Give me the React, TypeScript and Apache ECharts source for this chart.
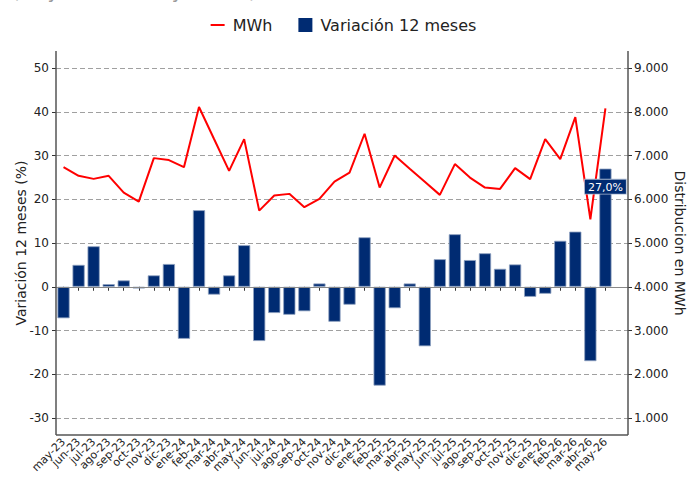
import React, { useEffect, useRef } from "react";
import * as echarts from "echarts";

const months = [
  "may-23", "jun-23", "jul-23", "ago-23", "sep-23", "oct-23", "nov-23", "dic-23",
  "ene-24", "feb-24", "mar-24", "abr-24", "may-24", "jun-24", "jul-24", "ago-24",
  "sep-24", "oct-24", "nov-24", "dic-24", "ene-25", "feb-25", "mar-25", "abr-25",
  "may-25", "jun-25", "jul-25", "ago-25", "sep-25", "oct-25", "nov-25", "dic-25",
  "ene-26", "feb-26", "mar-26", "abr-26", "may-26",
];

const mwh = [
  6734, 6535, 6466, 6535, 6153, 5947, 6940, 6895, 6734, 8108, 7378, 6650, 7375,
  5740, 6084, 6123, 5818, 6008, 6405, 6611, 7497, 6267, 7000, 6695, 6398, 6100,
  6803, 6496, 6267, 6237, 6711, 6459, 7375, 6917, 7879, 5543, 8076,
];

const variation = [
  -7.2, 5.0, 9.25, 0.6, 1.45, -0.4, 2.6, 5.2, -11.9, 17.5, -1.8, 2.6, 9.5,
  -12.4, -6.0, -6.4, -5.6, 0.75, -8.0, -4.1, 11.3, -22.6, -4.9, 0.75, -13.6, 6.3,
  12.0, 6.1, 7.65, 4.1, 5.1, -2.3, -1.6, 10.5, 12.6, -17.0, 27.0,
];

const leftTicks = { min: -30, max: 50, interval: 10 };
const rightTicks = { min: 1000, max: 9000, interval: 1000 };

const NAVY = "#002b72";
const FONT = "DejaVu Sans";

export default function App() {
  const ref = useRef<HTMLDivElement>(null);

  useEffect(() => {
    if (!ref.current) return;
    const chart = echarts.init(ref.current, undefined, { renderer: "svg" });
    const cats = months.concat([""]);
    const last = variation.length - 1;
    const barData = variation.map((v, i) =>
      i === last
        ? {
            value: v,
            label: {
              show: true,
              position: "insideTop",
              distance: 11,
              formatter: (p: any) => p.value.toFixed(1).replace(".", ",") + "%",
              color: "#ffffff",
              backgroundColor: NAVY,
              borderColor: "#a9b8cf",
              borderWidth: 0.8,
              padding: [2, 3, 1, 3],
              fontSize: 11,
              fontFamily: FONT,
            },
          }
        : v
    );

    const spine = { stroke: "#555555", lineWidth: 1.5 };

    chart.setOption({
      animation: false,
      textStyle: { fontFamily: FONT },
      grid: {
        left: 56,
        right: 59,
        top: 68,
        bottom: 60,
        containLabel: false,
        outerBoundsMode: "none",
      },
      legend: {
        top: 12,
        left: "center",
        itemWidth: 14,
        itemHeight: 14,
        itemGap: 26,
        itemStyle: { borderWidth: 0 },
        textStyle: { fontSize: 16, color: "#222", fontFamily: FONT, padding: [0, 0, 0, 3] },
        data: [
          { name: "MWh", icon: "path://M0,0h14v2h-14z" },
          { name: "Variación 12 meses", icon: "rect" },
        ],
      },
      graphic: [
        {
          type: "text",
          x: 12,
          y: 0,
          style: {
            text: "(Mayo 2023 - Mayo 2026)",
            fill: "#9a9a9a",
            font: `19px "${FONT}"`,
            verticalAlign: "bottom",
          },
        },
        { type: "line", shape: { x1: 56, y1: 51, x2: 56, y2: 435 }, style: spine, z: 10 },
        { type: "line", shape: { x1: 628, y1: 51, x2: 628, y2: 435 }, style: spine, z: 10 },
        { type: "line", shape: { x1: 56, y1: 435, x2: 628, y2: 435 }, style: spine, z: 10 },
      ],
      xAxis: {
        type: "category",
        data: cats,
        boundaryGap: true,
        offset: 17,
        axisLine: { show: false },
        axisTick: {
          show: true,
          alignWithLabel: true,
          length: 4,
          interval: (i: number) => i < months.length,
          lineStyle: { color: "#333" },
        },
        axisLabel: {
          rotate: 45,
          interval: 0,
          fontSize: 11,
          margin: 5,
          color: "#222",
          fontFamily: FONT,
        },
        splitLine: { show: false },
      },
      yAxis: [
        {
          type: "value",
          position: "left",
          min: leftTicks.min,
          max: leftTicks.max,
          interval: leftTicks.interval,
          axisLine: { show: false },
          axisTick: { show: true, length: 4, lineStyle: { color: "#333" } },
          axisLabel: { fontSize: 12, margin: 7, color: "#222", fontFamily: FONT },
          splitLine: { show: true, lineStyle: { color: "#a0a0a0", type: [5, 3], width: 1 } },
          name: "Variación 12 meses (%)",
          nameLocation: "middle",
          nameGap: 28,
          nameMoveOverlap: false,
          nameTextStyle: { fontSize: 14, color: "#222", fontFamily: FONT },
        },
        {
          type: "value",
          position: "right",
          min: rightTicks.min,
          max: rightTicks.max,
          interval: rightTicks.interval,
          axisLine: { show: false },
          axisTick: { show: true, length: 4, lineStyle: { color: "#333" } },
          axisLabel: {
            fontSize: 12,
            margin: 6,
            color: "#222",
            fontFamily: FONT,
            formatter: (v: number) => String(v).replace(/\B(?=(\d{3})+(?!\d))/g, "."),
          },
          splitLine: { show: false },
          name: "Distribucion en MWh",
          nameLocation: "middle",
          nameRotate: -90,
          nameGap: 45,
          nameMoveOverlap: false,
          nameTextStyle: { fontSize: 14, color: "#222", fontFamily: FONT },
        },
      ],
      series: [
        {
          name: "MWh",
          type: "line",
          yAxisIndex: 1,
          data: mwh,
          symbol: "none",
          lineStyle: { color: "#ff0000", width: 2 },
          itemStyle: { color: "#ff0000" },
          z: 2,
        },
        {
          name: "Variación 12 meses",
          type: "bar",
          yAxisIndex: 0,
          data: barData,
          barWidth: "81%",
          itemStyle: { color: NAVY, borderColor: "#8fa2c0", borderWidth: 0.8 },
          z: 3,
          markLine: {
            silent: true,
            symbol: "none",
            label: { show: false },
            lineStyle: { color: "#888888", type: "solid", width: 1.2 },
            data: [{ yAxis: 0 }],
          },
        },
      ],
    });
    return () => chart.dispose();
  }, []);

  return (
    <div
      ref={ref}
      style={{ position: "fixed", left: 0, top: 0, width: 687, height: 478, background: "#fff" }}
    />
  );
}
